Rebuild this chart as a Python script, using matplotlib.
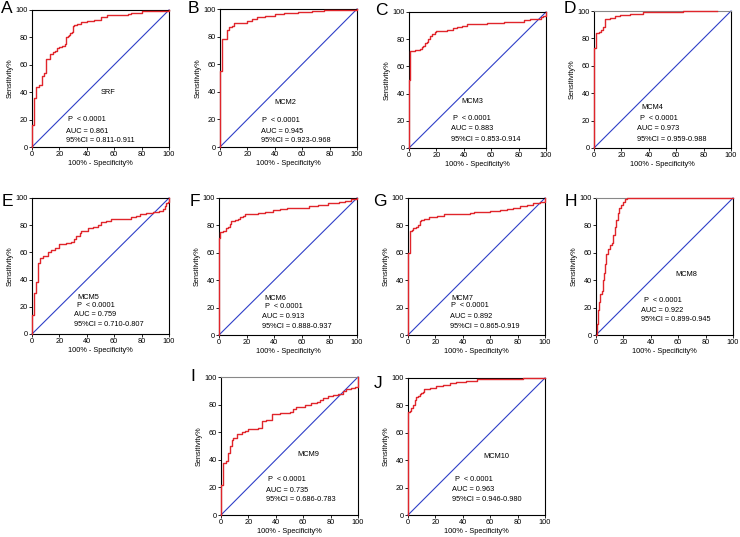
import matplotlib
matplotlib.use("Agg")
import matplotlib.pyplot as plt

plt.rcParams['font.family'] = ['Liberation Sans', 'DejaVu Sans']

W, H = 740, 537

# ---- data: ROC step vertices (x = 100% - specificity, y = sensitivity after jump)
names = ["SRF", "MCM2", "MCM3", "MCM4", "MCM5", "MCM6", "MCM7", "MCM8", "MCM9", "MCM10"]
letters = ["A", "B", "C", "D", "E", "F", "G", "H", "I", "J"]
aucs = ["0.861", "0.945", "0.883", "0.973", "0.759", "0.913", "0.892", "0.922", "0.735", "0.963"]
cis = ["0.811-0.911", "0.923-0.968", "0.853-0.914", "0.959-0.988", "0.710-0.807",
       "0.888-0.937", "0.865-0.919", "0.899-0.945", "0.686-0.783", "0.946-0.980"]

srf_x = [0, 0, 1.5, 3, 5, 7, 9, 10, 13, 15, 17, 18, 20, 22, 24, 25, 26, 27, 28, 29, 30, 31, 33, 36, 40, 45, 50, 55, 70, 72, 80, 90, 100]
srf_y = [0, 16, 36, 44, 45, 52, 54, 64, 68, 69, 70, 72, 73, 74, 75, 80, 81, 82, 83, 84, 88, 89, 90, 91, 92, 93, 95, 96, 97, 98, 99, 99.5, 100]

mcm2_x = [0, 0, 1.2, 4.9, 6.8, 8.5, 10.4, 13, 20, 23, 27, 33, 40, 47, 57, 67, 76, 91, 100]
mcm2_y = [0, 55, 78, 85, 87, 88, 89.5, 90, 91, 93, 94, 95, 96.5, 97, 98, 98.5, 99, 99.5, 100]

mcm3_x = [0, 0, 0.7, 4.4, 8, 9.3, 10.5, 11.7, 13, 14, 15.4, 16.6, 19, 20, 27.6, 32, 35, 38.5, 42, 57, 69, 81, 84, 88.5, 96, 98, 100]
mcm3_y = [0, 50, 71.5, 72, 72.5, 74, 75, 77, 78, 80, 82, 84, 85, 86, 87, 88, 89, 90, 91, 92, 92.5, 93, 94, 95, 96, 97, 100]

mcm4_x = [0, 0, 1.7, 4, 5.4, 6.6, 7.8, 11.5, 15, 19, 26, 36, 48, 65, 80, 90]
mcm4_y = [0, 73, 84, 85, 86, 88, 94, 95, 96, 97, 98, 99, 99.5, 99.7, 99.8, 100]

mcm5_x = [0, 0, 1.2, 2.7, 4.6, 5.6, 8, 11.7, 14, 16.5, 20, 25, 28.7, 31, 32, 35, 36, 38.4, 41, 44.5, 48, 50.6, 54, 58, 72.5, 76, 78.6, 83, 88, 93, 95.6, 97, 98, 99.5, 100]
mcm5_y = [0, 14, 30, 38.5, 52.5, 56, 57.5, 60.5, 62, 63.5, 66, 67, 68, 70, 72, 74, 75.5, 76, 78, 79, 80, 82, 83, 84.5, 86, 87, 88, 89, 90, 90.5, 92, 94, 96, 97, 100]

mcm6_x = [0, 0, 1, 3, 5.3, 6.5, 7.8, 9, 11.4, 13.8, 15, 17.5, 18.7, 21, 28, 33, 37, 39, 44, 49, 57.5, 65, 72, 79, 86.7, 91.5, 96, 100]
mcm6_y = [0, 71, 75, 76, 78, 79, 81, 83, 84, 85, 86, 87, 88, 88.5, 89, 89.5, 90, 91, 92, 92.5, 93, 94, 95, 96, 97, 98, 99, 100]

mcm7_x = [0, 0, 1.2, 3, 4, 6, 7.3, 8.5, 9.5, 11.4, 15, 21, 26, 39, 45, 48, 60, 67, 72, 77, 82, 87, 91.5, 96, 100]
mcm7_y = [0, 60, 76, 77, 78, 79, 80, 83, 84, 85, 86, 87, 88, 88.5, 89, 90, 90.5, 91, 92, 93, 94, 95, 96, 97, 100]

mcm8_x = [0, 0.7, 1.5, 2.4, 3.2, 4.4, 4.9, 5.6, 6.8, 7.5, 8.5, 10, 11.7, 12.4, 13.6, 14.6, 15.8, 16.5, 18.5, 20, 21.4, 22.6, 100]
mcm8_y = [0, 8, 18, 24, 30, 32, 40, 45, 52, 59, 63, 66, 67, 73, 79, 84, 89, 93, 95, 97, 99, 100, 100]

mcm9_x = [0, 0, 1.7, 4, 5.3, 6.5, 7.8, 9, 11.4, 15, 17.5, 20, 23.5, 27, 30, 33, 37, 43, 50, 52.7, 55, 61, 66, 70, 72, 74.5, 78, 82, 85.4, 89, 91.5, 95, 98, 100, 100]
mcm9_y = [0, 22, 38, 39, 45, 50, 54, 56, 59, 60, 61, 62, 62.5, 63, 68, 69, 73, 74, 75, 77, 78, 80, 81, 82, 83, 85, 86, 87, 88, 90, 91, 92, 93, 94, 100]

mcm10_x = [0, 0, 1.2, 2.4, 3.7, 4.9, 6, 7.3, 8.5, 9.8, 11, 11.7, 15.9, 20.7, 25.6, 30.5, 35, 42.7, 50, 70, 84, 100]
mcm10_y = [0, 75, 76, 78, 80, 84, 86, 87, 88, 89, 90, 92, 93, 94, 95, 96, 97, 98, 99, 99.5, 100, 100]

curves_x = [srf_x, mcm2_x, mcm3_x, mcm4_x, mcm5_x, mcm6_x, mcm7_x, mcm8_x, mcm9_x, mcm10_x]
curves_y = [srf_y, mcm2_y, mcm3_y, mcm4_y, mcm5_y, mcm6_y, mcm7_y, mcm8_y, mcm9_y, mcm10_y]

ticks = [0, 20, 40, 60, 80, 100]

# ---- layout (pixel boxes: left, right, top, bottom)
boxes = [(32, 169, 10, 147), (220, 357, 9, 147), (409, 546, 12, 148), (594, 731, 11, 148),
         (32, 169, 198, 334), (219, 357, 198, 335), (408, 545, 198, 335), (596, 733, 198, 335),
         (221, 358, 377, 515), (408, 545, 378, 515)]
letter_pos = [(1, 1), (188, 1), (375, 3), (564, 1), (2, 194), (190, 194), (373, 194), (565, 194),
              (190, 369), (374, 376)]
# annotation positions (data coords): name(x,y), P(x,y), AUC/CI x, AUC y, CI y
name_pos = [(50, 40), (40, 32), (38, 34), (34.6, 29.4), (32.8, 27), (33, 27), (31.5, 27), (58, 44.4), (56, 43.6), (55, 42.7)]
p_pos = [(26.6, 20), (31, 19), (32.4, 22), (33.4, 21.4), (33, 21), (33, 20.7), (31.5, 21.5), (34.8, 25), (34.5, 26), (34, 26)]
auc_x = [25, 30, 31, 31.5, 31, 31, 31, 33, 32.8, 32.4]
auc_y = [11.5, 11, 14.4, 13.9, 14, 13.4, 13.4, 17.7, 18, 18.3]
ci_y = [4.6, 4.4, 6.6, 6, 6.8, 6, 6, 11, 11.4, 11]

red = "#e0252b"
blue = "#2f3fc8"
fs = 5.3

fig = plt.figure(figsize=(W / 100, H / 100), dpi=100)

for i in range(10):
    l, r, t, b = boxes[i]
    ax = fig.add_axes([l / W, 1 - b / H, (r - l) / W, (b - t) / H])
    ax.set_xlim(0, 100)
    ax.set_ylim(0, 100)
    ax.plot([0, 100], [0, 100], color=blue, lw=0.8, zorder=2, clip_on=False)
    ax.plot(curves_x[i], curves_y[i], color=red, lw=1.0, drawstyle="steps-post", zorder=3, clip_on=False)
    ax.set_xticks(ticks)
    ax.set_yticks(ticks)
    ax.tick_params(labelsize=fs, length=2, width=0.6, pad=1)
    for s in ax.spines.values():
        s.set_linewidth(0.8)
    if i in (3, 7, 8):
        ax.spines['top'].set_color("#888888")
    ax.set_xlabel("100% - Specificity%", fontsize=fs, labelpad=1)
    ax.set_ylabel("Sensitivity%", fontsize=fs, labelpad=1)
    ax.text(name_pos[i][0], name_pos[i][1], names[i], fontsize=fs, va="center", ha="left")
    ax.text(p_pos[i][0], p_pos[i][1], "P  < 0.0001", fontsize=fs, va="center", ha="left")
    ax.text(auc_x[i], auc_y[i], "AUC = " + aucs[i], fontsize=fs, va="center", ha="left")
    ax.text(auc_x[i], ci_y[i], "95%CI = " + cis[i], fontsize=fs, va="center", ha="left")
    lx, ly = letter_pos[i]
    fig.text(lx / W, 1 - ly / H, letters[i], fontsize=12.5, va="top", ha="left")

fig.savefig("out.png", dpi=100)
